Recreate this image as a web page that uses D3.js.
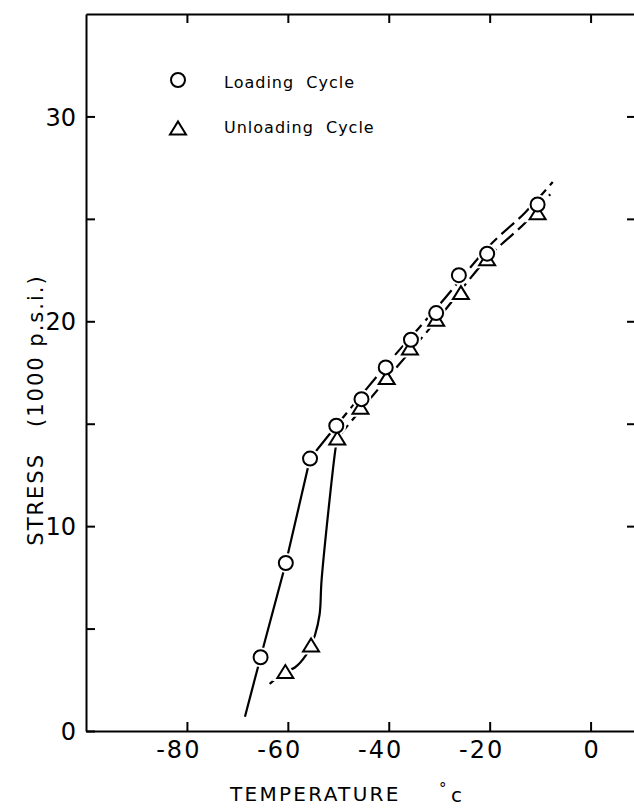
<!DOCTYPE html>
<html>
<head>
<meta charset="utf-8">
<script src="https://cdn.jsdelivr.net/npm/d3@7"></script>
<style>
  html, body { margin: 0; padding: 0; background: #fff; }
  svg { display: block; }
  text { font-family: "DejaVu Sans", sans-serif; fill: #000; }
</style>
</head>
<body>
<div id="chart"></div>
<script>
// ---------------- data ----------------
const xTicks = [-80, -60, -40, -20, 0];
const yTicks = [0, 5, 10, 15, 20, 25, 30];
const yLabelTicks = [0, 10, 20, 30];
const rightTicks = [10, 15, 20, 25, 30];

const loadingTemp   = [-65.4, -60.4, -55.6, -50.4, -45.4, -40.6, -35.6, -30.6, -26.1, -20.5, -10.5];
const loadingStress = [3.6, 8.2, 13.3, 14.9, 16.2, 17.75, 19.1, 20.4, 22.25, 23.3, 25.7];

const unloadingTemp   = [-60.5, -55.4, -50.2, -45.6, -40.4, -35.8, -30.6, -25.7, -20.5, -10.5];
const unloadingStress = [2.9, 4.2, 14.3, 15.8, 17.25, 18.7, 20.1, 21.4, 23.05, 25.3];

// curve vertices
const loadingSolidT   = [-68.5, -65.4, -60.4, -55.6, -50.4];
const loadingSolidS   = [0.7, 3.6, 8.2, 13.3, 14.9];
const loadingDashT    = [-50.4, -40, -30, -20, -13, -7.5];
const loadingDashS    = [14.9, 18.0, 20.8, 23.7, 25.3, 26.8];

const unloadingSolidT = [-63.6, -60.5, -58.6, -56.4, -55.4, -54.6, -53.7, -53.3, -50.6, -50.2];
const unloadingSolidS = [2.3, 2.9, 3.1, 3.7, 4.2, 4.7, 5.7, 7.4, 13.7, 14.3];
const unloadingDashT  = [-50.2, -40, -30, -20, -13, -8];
const unloadingDashS  = [14.3, 17.3, 20.2, 23.2, 24.8, 26.2];

const legendLabels = ["Loading  Cycle", "Unloading  Cycle"];

// ---------------- drawing ----------------
const W = 634, H = 808;
const svg = d3.select("#chart").append("svg").attr("width", W).attr("height", H);

const x = d3.scaleLinear().domain([-100, 9]).range([86, 636]);
const y = d3.scaleLinear().domain([0, 35]).range([731, 14]);

const axisStyle = g => {
  g.selectAll(".domain").attr("stroke", "#000").attr("stroke-width", 2);
  g.selectAll(".tick line").attr("stroke", "#000").attr("stroke-width", 2);
};

// bottom axis
const gB = svg.append("g").attr("transform", `translate(0,${y(0)})`)
  .call(d3.axisBottom(x).tickValues(xTicks).tickSizeInner(-9).tickSizeOuter(0)
        .tickFormat(d => d === 0 ? "0" : "-" + Math.abs(d)));
axisStyle(gB);
gB.selectAll(".tick text")
  .attr("y", 27).attr("dy", null)
  .attr("font-size", 24)
  .attr("font-family", "DejaVu Sans")
  .attr("letter-spacing", d => d === 0 ? 0 : 2)
  .attr("text-anchor", d => d === 0 ? "middle" : "end")
  .attr("x", d => d === 0 ? 0 : 14);

// top axis
const gT = svg.append("g").attr("transform", `translate(0,${y(35)})`)
  .call(d3.axisTop(x).tickValues(xTicks).tickSizeInner(-9).tickSizeOuter(0).tickFormat(""));
axisStyle(gT);

// left axis
const gL = svg.append("g").attr("transform", `translate(${x(-100)},0)`)
  .call(d3.axisLeft(y).tickValues(yTicks).tickSizeInner(-9).tickSizeOuter(0)
        .tickFormat(d => yLabelTicks.includes(d) ? String(d) : ""));
axisStyle(gL);
gL.selectAll(".tick text")
  .attr("x", -10).attr("dy", "0.36em")
  .attr("font-size", 24)
  .attr("font-family", "DejaVu Sans")
  .attr("text-anchor", "end");

// right axis
const gR = svg.append("g").attr("transform", `translate(${x(9)},0)`)
  .call(d3.axisRight(y).tickValues(rightTicks).tickSizeInner(-9).tickSizeOuter(0).tickFormat(""));
axisStyle(gR);

// axis titles
const xt = svg.append("g");
xt.append("text").attr("x", 230).attr("y", 801)
  .attr("font-size", 20).attr("letter-spacing", 2.3).text("TEMPERATURE");
xt.append("text").attr("x", 439).attr("y", 794)
  .attr("font-size", 15).text("°");
xt.append("text").attr("x", 451).attr("y", 802)
  .attr("font-size", 20).text("c");

svg.append("text")
  .attr("transform", "translate(43,410) rotate(-90)")
  .attr("text-anchor", "middle")
  .attr("font-size", 21).attr("letter-spacing", 2)
  .style("white-space", "pre")
  .text("STRESS   (1000 p.s.i.)");

// lines
const toPts = (T, S) => T.map((t, i) => [t, S[i]]);
const lineLin = d3.line().x(d => x(d[0])).y(d => y(d[1]));
const lineSmooth = d3.line().x(d => x(d[0])).y(d => y(d[1])).curve(d3.curveCatmullRom.alpha(0.5));

const lines = svg.append("g").attr("fill", "none").attr("stroke", "#000").attr("stroke-width", 2.2);
lines.append("path").attr("d", lineLin(toPts(loadingSolidT, loadingSolidS)));
lines.append("path").attr("d", lineSmooth(toPts(loadingDashT, loadingDashS))).attr("stroke-dasharray", "17,6");
lines.append("path").attr("d", lineSmooth(toPts(unloadingSolidT, unloadingSolidS)));
lines.append("path").attr("d", lineSmooth(toPts(unloadingDashT, unloadingDashS))).attr("stroke-dasharray", "17,6");

// markers
const tri = "M0,-6.5L8,6.5L-8,6.5Z";
const loadPts = toPts(loadingTemp, loadingStress);
const unloadPts = toPts(unloadingTemp, unloadingStress);

const mk = svg.append("g");
// halos (gaps in lines near markers)
mk.selectAll(".th").data(unloadPts).join("path").attr("d", tri)
  .attr("transform", d => `translate(${x(d[0])},${y(d[1])})`)
  .attr("fill", "#fff").attr("stroke", "#fff").attr("stroke-width", 6);
mk.selectAll(".ch").data(loadPts).join("circle")
  .attr("cx", d => x(d[0])).attr("cy", d => y(d[1])).attr("r", 7)
  .attr("fill", "#fff").attr("stroke", "#fff").attr("stroke-width", 6);
// triangles
mk.selectAll(".t").data(unloadPts).join("path").attr("d", tri)
  .attr("transform", d => `translate(${x(d[0])},${y(d[1])})`)
  .attr("fill", "#fff").attr("stroke", "#000").attr("stroke-width", 2).attr("stroke-linejoin", "miter");
// circles
mk.selectAll(".c").data(loadPts).join("circle")
  .attr("cx", d => x(d[0])).attr("cy", d => y(d[1])).attr("r", 7)
  .attr("fill", "#fff").attr("stroke", "#000").attr("stroke-width", 2);

// legend
const lg = svg.append("g");
lg.append("circle").attr("cx", 178).attr("cy", 80).attr("r", 7)
  .attr("fill", "#fff").attr("stroke", "#000").attr("stroke-width", 2);
lg.append("path").attr("d", tri).attr("transform", "translate(178,128)")
  .attr("fill", "#fff").attr("stroke", "#000").attr("stroke-width", 2);
lg.selectAll("text.lab").data(legendLabels).join("text")
  .attr("x", 224).attr("y", (d, i) => i === 0 ? 88 : 133)
  .attr("font-size", 16).attr("letter-spacing", 1)
  .style("white-space", "pre")
  .text(d => d);
</script>
</body>
</html>
